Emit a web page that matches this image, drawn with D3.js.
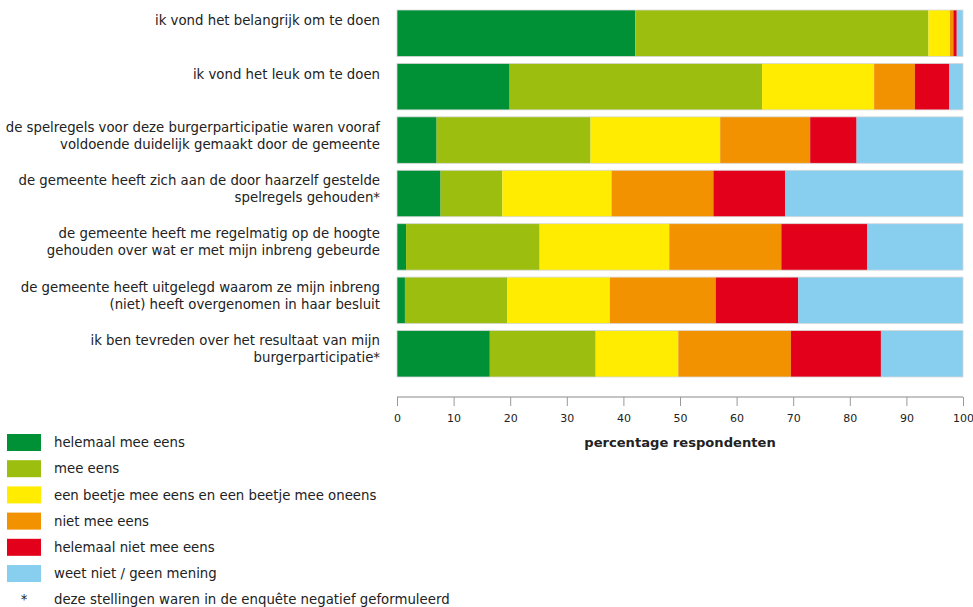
<!doctype html>
<html lang="nl">
<head>
<meta charset="UTF-8">
<title>burgerparticipatie</title>
<script src="https://d3js.org/d3.v7.min.js"></script>
<style>
  body { margin: 0; background: #fff; }
  text { font-family: "DejaVu Sans", Verdana, sans-serif; fill: #222; }
</style>
</head>
<body>
<div id="chart-area"></div>
<script>
const chartW = 973;
const chartH = 607;

// stellingen (elke regel apart)
const statements = [
    ['ik vond het belangrijk om te doen'],
    ['ik vond het leuk om te doen'],
    ['de spelregels voor deze burgerparticipatie waren vooraf', 'voldoende duidelijk gemaakt door de gemeente'],
    ['de gemeente heeft zich aan de door haarzelf gestelde', 'spelregels gehouden*'],
    ['de gemeente heeft me regelmatig op de hoogte', 'gehouden over wat er met mijn inbreng gebeurde'],
    ['de gemeente heeft uitgelegd waarom ze mijn inbreng', '(niet) heeft overgenomen in haar besluit'],
    ['ik ben tevreden over het resultaat van mijn', 'burgerparticipatie*']
];

const answers = [
    'helemaal mee eens',
    'mee eens',
    'een beetje mee eens en een beetje mee oneens',
    'niet mee eens',
    'helemaal niet mee eens',
    'weet niet / geen mening'
];
const colors = ['#009036', '#9bbe0f', '#ffec00', '#f39200', '#e2001a', '#88cfef'];

// percentages per antwoord, in volgorde van de stellingen
const helemaalMeeEens  = [42.1, 19.9,  7.0,  7.7,  1.6,  1.4, 16.4];
const meeEens          = [51.8, 44.6, 27.2, 10.9, 23.6, 18.1, 18.7];
const beetje           = [ 3.8, 19.8, 22.9, 19.3, 22.9, 18.1, 14.6];
const nietMeeEens      = [ 0.6,  7.2, 15.9, 18.0, 19.8, 18.7, 19.9];
const helemaalNiet     = [ 0.6,  6.1,  8.2, 12.7, 15.2, 14.6, 15.9];
const weetNiet         = [ 1.1,  2.4, 18.8, 31.4, 16.9, 29.1, 14.5];

const xTicks = [0, 10, 20, 30, 40, 50, 60, 70, 80, 90, 100];
const footnote = 'deze stellingen waren in de enquête negatief geformuleerd';

const fs = 13.3;

const series = [helemaalMeeEens, meeEens, beetje, nietMeeEens, helemaalNiet, weetNiet];
const rows = statements.map((s, i) => {
    const r = { idx: i };
    answers.forEach((a, j) => r[a] = series[j][i]);
    return r;
});
const stacked = d3.stack().keys(answers)(rows);

const svg = d3.select('#chart-area')
    .append('svg')
    .attr('width', chartW)
    .attr('height', chartH);

const x = d3.scaleLinear().domain([0, 100]).range([397, 963]);
const y = d3.scaleBand()
    .domain(d3.range(statements.length))
    .range([10, 377])
    .paddingInner(0.13)
    .paddingOuter(0);

svg.append('g')
    .selectAll('g')
    .data(stacked)
    .join('g')
        .attr('fill', (d, i) => colors[i])
    .selectAll('rect')
    .data(d => d)
    .join('rect')
        .attr('x', d => x(d[0]))
        .attr('y', d => y(d.data.idx))
        .attr('width', d => x(d[1]) - x(d[0]))
        .attr('height', y.bandwidth());

// dunne grijze rand om elke balk
svg.append('g')
    .selectAll('rect')
    .data(rows)
    .join('rect')
        .attr('x', x(0))
        .attr('y', d => y(d.idx))
        .attr('width', x(100) - x(0))
        .attr('height', y.bandwidth())
        .attr('fill', 'none')
        .attr('stroke', '#d8d8d8')
        .attr('stroke-width', 0.8);

// labels
const lab = svg.append('g')
    .selectAll('text')
    .data(statements)
    .join('text')
        .attr('text-anchor', 'end')
        .attr('font-size', fs)
        .attr('y', (d, i) => y(i) + y.bandwidth() / 2 - (d.length - 1) * 8.5 - (i === 0 || i === 1 ? 8 : 0))
        .attr('dy', '0.35em');
lab.selectAll('tspan')
    .data(d => d)
    .join('tspan')
        .attr('x', 380)
        .attr('dy', (d, i) => i === 0 ? 0 : 17)
        .text(d => d);

// x-as
const axis = svg.append('g')
    .attr('transform', 'translate(0,397)')
    .call(d3.axisBottom(x).tickValues(xTicks).tickSize(9).tickPadding(8));
axis.select('.domain').attr('stroke', '#888').attr('d', `M${x(0)},0H${x(100)}`);
axis.selectAll('.tick line').attr('stroke', '#999');
axis.selectAll('.tick text')
    .style('font-family', '"DejaVu Sans", Verdana, sans-serif')
    .attr('font-size', 11)
    .attr('fill', '#333');

svg.append('text')
    .attr('x', x(50))
    .attr('y', 447)
    .attr('text-anchor', 'middle')
    .attr('font-size', 13.1)
    .attr('font-weight', 'bold')
    .text('percentage respondenten');

// legenda
const leg = svg.append('g')
    .selectAll('g')
    .data(answers)
    .join('g')
        .attr('transform', (d, i) => `translate(7,${434 + i * 26.2})`);
leg.append('rect')
    .attr('width', 34)
    .attr('height', 17)
    .attr('fill', (d, i) => colors[i]);
leg.append('text')
    .attr('x', 47)
    .attr('y', 8.5)
    .attr('dy', '0.35em')
    .attr('font-size', fs)
    .text(d => d);

const fn = svg.append('g').attr('transform', `translate(7,${434 + 6 * 26.2})`);
fn.append('text').attr('x', 17).attr('y', 8.5).attr('dy', '0.35em')
    .attr('text-anchor', 'middle').attr('font-size', fs).text('*');
fn.append('text').attr('x', 47).attr('y', 8.5).attr('dy', '0.35em')
    .attr('font-size', fs).text(footnote);
</script>
</body>
</html>
